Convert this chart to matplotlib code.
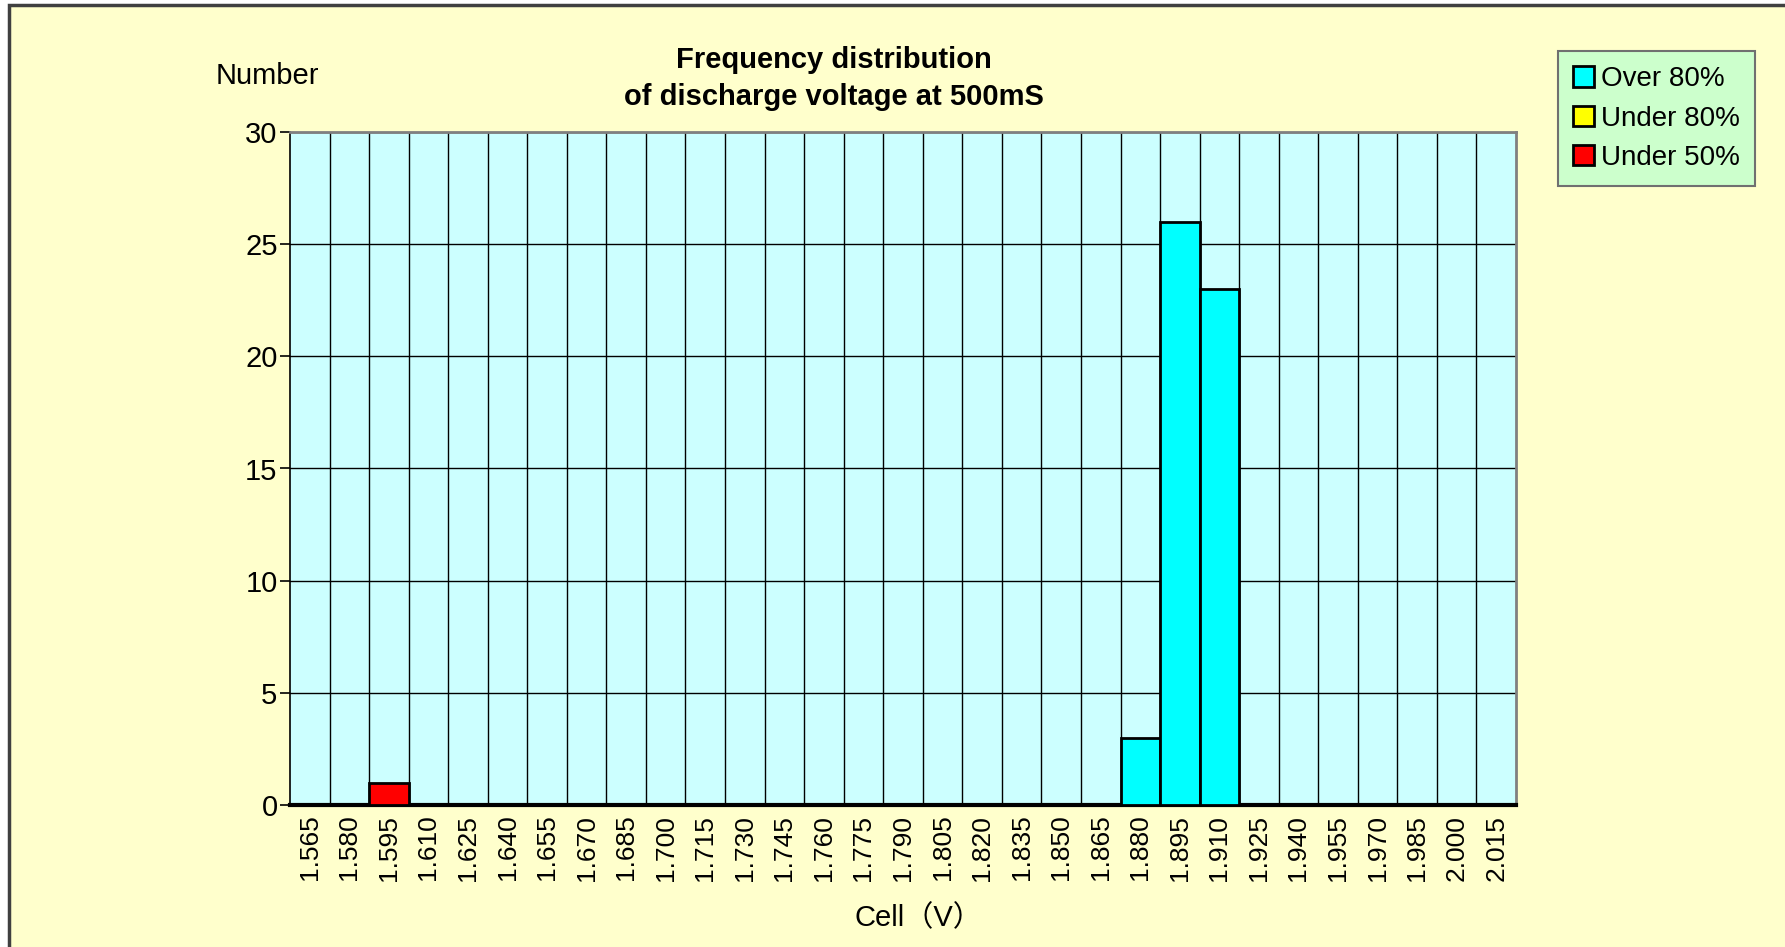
import numpy as np
import matplotlib.pyplot as plt
from matplotlib.patches import Patch, Rectangle

plt.rcParams['font.family'] = ['Liberation Sans', 'Noto Sans CJK JP', 'DejaVu Sans']

# bin labels (cell voltage, V)
labels = ['%.3f' % (1.565 + 0.015 * i) for i in range(31)]
over80 = [0] * 31
under80 = [0] * 31
under50 = [0] * 31
under50[2] = 1      # 1.595
over80[21] = 3      # 1.880
over80[22] = 26     # 1.895
over80[23] = 23     # 1.910

fig = plt.figure(figsize=(17.85, 9.47), dpi=100)
fig.patch.set_facecolor('white')
fig.patches.append(Rectangle((9 / 1785, -0.1), 1.2, 1.1 - 5 / 947, transform=fig.transFigure,
                             facecolor='#FFFFCC', edgecolor='#404040', linewidth=2.5, zorder=-10))

ax = fig.add_axes([290 / 1785, 1 - 805 / 947, 1226 / 1785, 673 / 947])
ax.set_facecolor('#CCFFFF')
x = np.arange(len(labels))
ax.bar(x, over80, width=1, color='#00FFFF', edgecolor='black', linewidth=2, zorder=3)
ax.bar(x, under80, width=1, bottom=over80, color='#FFFF00', edgecolor='black', linewidth=2, zorder=3)
ax.bar(x, under50, width=1, color='#FF0000', edgecolor='black', linewidth=2, zorder=3)
# hide empty bars
for p in ax.patches:
    if p.get_height() == 0:
        p.set_visible(False)

ax.set_xlim(-0.5, len(labels) - 0.5)
ax.set_ylim(0, 30)
ax.set_yticks([0, 5, 10, 15, 20, 25, 30])
ax.set_xticks(x)
ax.set_xticklabels(labels, rotation=90, fontsize=19)
ax.set_xticks(np.arange(len(labels) - 1) + 0.5, minor=True)
ax.tick_params(axis='x', which='both', length=0, pad=7)
ax.tick_params(axis='y', length=7, width=1.2, direction='out', labelsize=21, pad=2)
ax.grid(True, axis='x', which='minor', color='black', linewidth=1, zorder=1)
ax.grid(True, axis='y', which='major', color='black', linewidth=1, zorder=1)
ax.set_axisbelow(True)
ax.spines['bottom'].set_linewidth(3)
ax.spines['left'].set_linewidth(1.2)
ax.spines['top'].set_color('#808080')
ax.spines['right'].set_color('#808080')
ax.spines['top'].set_linewidth(2)
ax.spines['right'].set_linewidth(2)

fig.text(834 / 1785, 1 - 60 / 947, 'Frequency distribution', ha='center', va='center',
         fontsize=21, fontweight='bold')
fig.text(834 / 1785, 1 - 97 / 947, 'of discharge voltage at 500mS', ha='center', va='center',
         fontsize=21, fontweight='bold')
fig.text(267 / 1785, 1 - 76 / 947, 'Number', ha='center', va='center', fontsize=21)
fig.text(918 / 1785, 1 - 918 / 947, 'Cell（V）', ha='center', va='center', fontsize=21)

handles = [Patch(facecolor='#00FFFF', edgecolor='black', linewidth=2),
           Patch(facecolor='#FFFF00', edgecolor='black', linewidth=2),
           Patch(facecolor='#FF0000', edgecolor='black', linewidth=2)]
leg = fig.legend(handles, ['Over 80%', 'Under 80%', 'Under 50%'],
                 loc='upper left', bbox_to_anchor=(1558 / 1785, 1 - 51 / 947),
                 borderaxespad=0, fontsize=20, fancybox=False, framealpha=1,
                 facecolor='#CCFFCC', edgecolor='#707070', handlelength=0.75,
                 handleheight=0.75, handletextpad=0.25, labelspacing=0.48,
                 borderpad=0.55)
leg.get_frame().set_linewidth(1.5)

fig.savefig('out.png', dpi=100)
